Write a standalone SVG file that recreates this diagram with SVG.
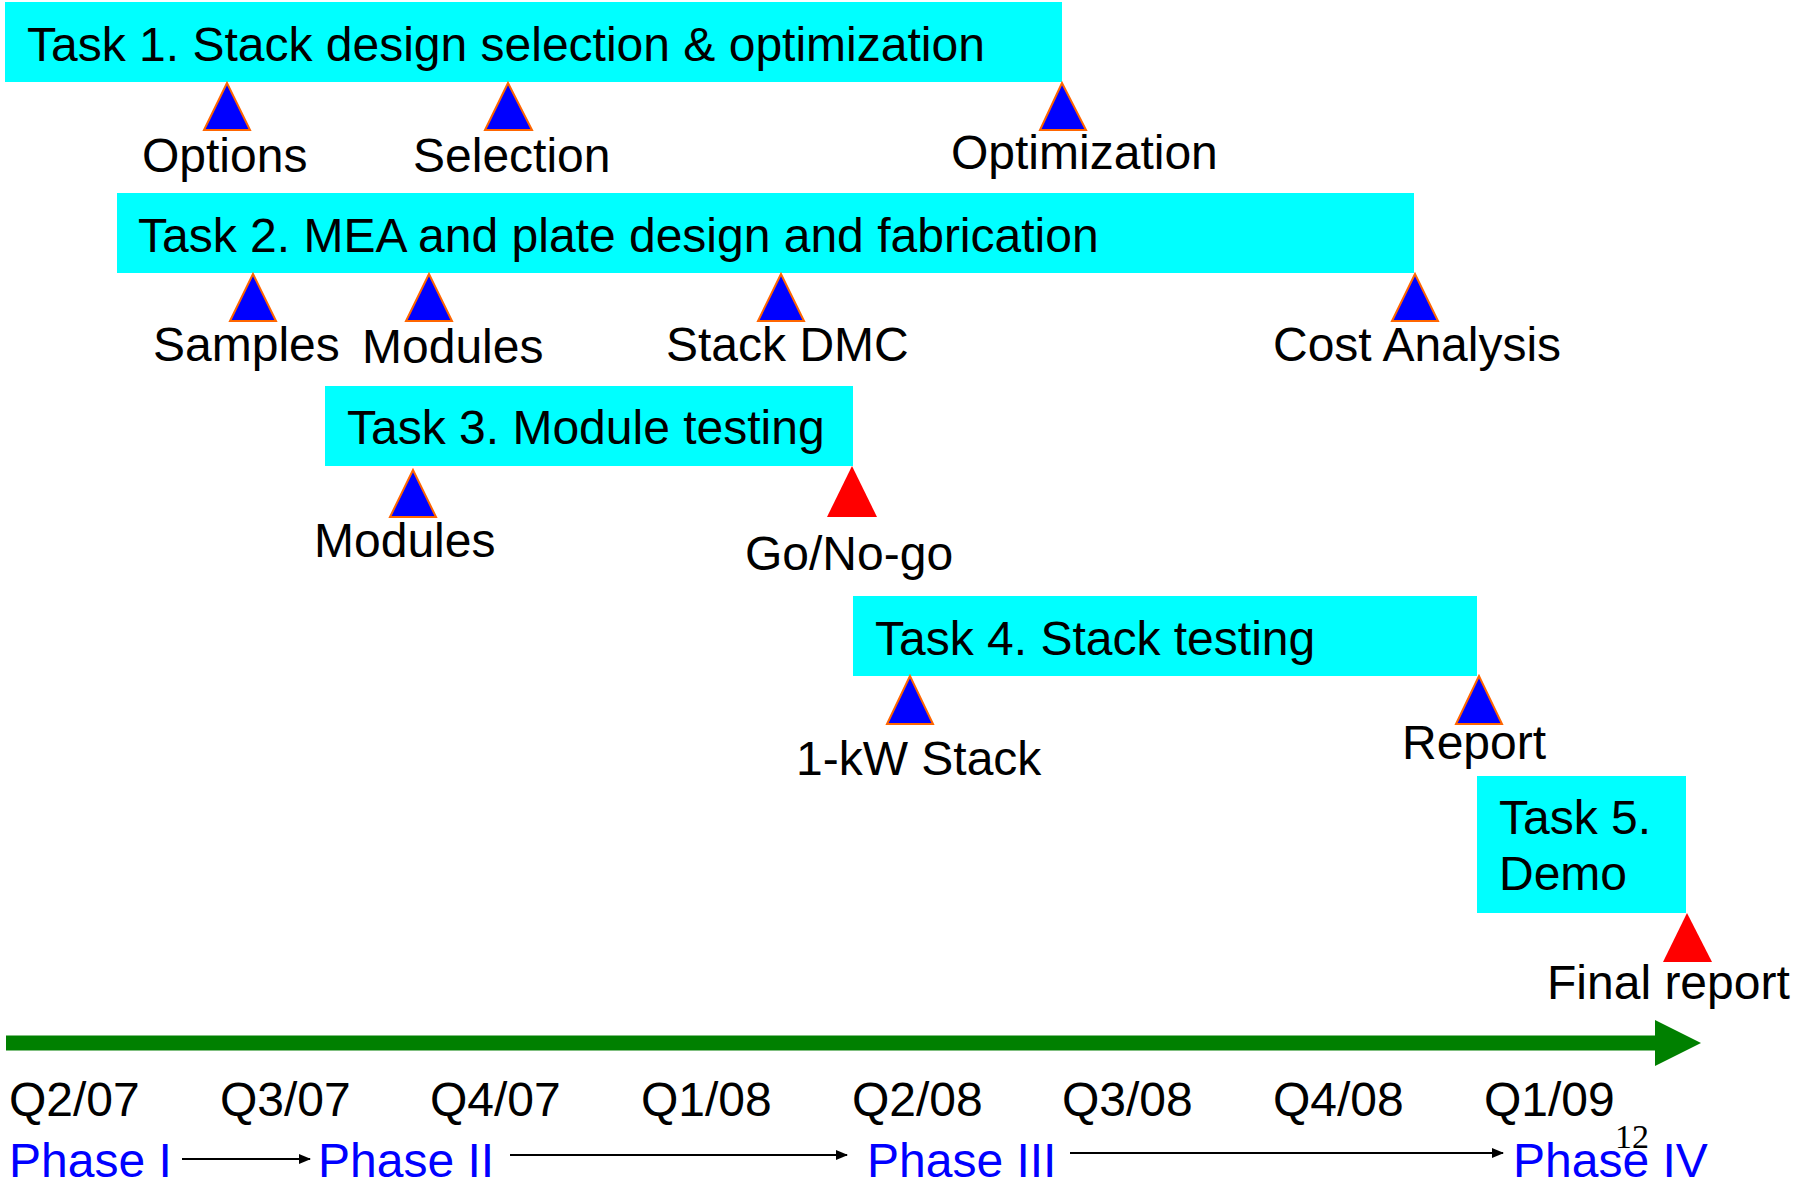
<svg xmlns="http://www.w3.org/2000/svg" width="1795" height="1179" viewBox="0 0 1795 1179">
<style>
text{font-family:"Liberation Sans",Arial,sans-serif;font-size:48px;fill:#000}
.bar{fill:#00FFFF}
.ms{fill:#0000FF;stroke:#FF6600;stroke-width:2;stroke-linejoin:miter}
.go{fill:#FF0000}
.ph{fill:#0000FF}
.ln{stroke:#000;stroke-width:2;fill:none}
</style>
<defs>
<marker id="ah" markerWidth="12" markerHeight="12" refX="11" refY="6" orient="auto" markerUnits="userSpaceOnUse" viewBox="0 0 12 12">
<path d="M0,1 L12,6 L0,11 z" fill="#000"/>
</marker>
</defs>
<rect width="1795" height="1179" fill="#fff"/>

<g id="task1"><rect class="bar" x="5" y="2" width="1057" height="80"/><text x="27" y="61">Task 1. Stack design selection &amp; optimization</text></g>
<g id="ms-options"><polygon class="ms" points="227,83 204,130 250,130"/><text x="142" y="172">Options</text></g>
<g id="ms-selection"><polygon class="ms" points="508,83 485,130 532,130"/><text x="413" y="172">Selection</text></g>
<g id="ms-optimization"><polygon class="ms" points="1062,83 1040,130 1086,130"/><text x="951" y="169">Optimization</text></g>

<g id="task2"><rect class="bar" x="117" y="193" width="1297" height="80"/><text x="138" y="252">Task 2. MEA and plate design and fabrication</text></g>
<g id="ms-samples"><polygon class="ms" points="253,274 230,321 276,321"/><text x="153" y="361">Samples</text></g>
<g id="ms-modules2"><polygon class="ms" points="429,274 406,321 452,321"/><text x="362" y="363">Modules</text></g>
<g id="ms-stackdmc"><polygon class="ms" points="781,274 758,321 804,321"/><text x="666" y="361">Stack DMC</text></g>
<g id="ms-cost"><polygon class="ms" points="1415,274 1392,321 1438,321"/><text x="1273" y="361">Cost Analysis</text></g>

<g id="task3"><rect class="bar" x="325" y="386" width="528" height="80"/><text x="347" y="444">Task 3. Module testing</text></g>
<g id="ms-modules3"><polygon class="ms" points="413,470 390,517 436,517"/><text x="314" y="557">Modules</text></g>
<g id="ms-gonogo"><polygon class="go" points="852,466 827,517 877,517"/><text x="745" y="570">Go/No-go</text></g>

<g id="task4"><rect class="bar" x="853" y="596" width="624" height="80"/><text x="875" y="655">Task 4. Stack testing</text></g>
<g id="ms-1kw"><polygon class="ms" points="910,676 887,724 933,724"/><text x="796" y="775">1-kW Stack</text></g>
<g id="ms-report"><polygon class="ms" points="1479,676 1456,724 1502,724"/><text x="1402" y="759">Report</text></g>

<g id="task5"><rect class="bar" x="1477" y="776" width="209" height="137"/><text x="1499" y="834">Task 5.</text><text x="1499" y="890">Demo</text></g>
<g id="ms-final"><polygon class="go" points="1687,913 1663,962 1712,962"/><text x="1547" y="999">Final report</text></g>

<g id="connectors">
<path d="M6,1043 H1656" stroke="#008000" stroke-width="15" fill="none"/>
<polygon points="1655,1020 1701,1043 1655,1066" fill="#008000"/>
<line class="ln" x1="182" y1="1159" x2="310" y2="1159" marker-end="url(#ah)"/>
<line class="ln" x1="510" y1="1155" x2="847" y2="1155" marker-end="url(#ah)"/>
<line class="ln" x1="1070" y1="1153" x2="1503" y2="1153" marker-end="url(#ah)"/>
</g>

<g id="quarters">
<text x="9" y="1116">Q2/07</text>
<text x="220" y="1116">Q3/07</text>
<text x="430" y="1116">Q4/07</text>
<text x="641" y="1116">Q1/08</text>
<text x="852" y="1116">Q2/08</text>
<text x="1062" y="1116">Q3/08</text>
<text x="1273" y="1116">Q4/08</text>
<text x="1484" y="1116">Q1/09</text>
</g>
<g id="phases">
<text class="ph" x="9" y="1177">Phase I</text>
<text class="ph" x="318" y="1177">Phase II</text>
<text class="ph" x="867" y="1177">Phase III</text>
<text class="ph" x="1513" y="1177">Phase IV</text>
</g>
<text x="1615" y="1148" style="font-family:'Liberation Serif','Times New Roman',serif;font-size:34px">12</text>
</svg>
